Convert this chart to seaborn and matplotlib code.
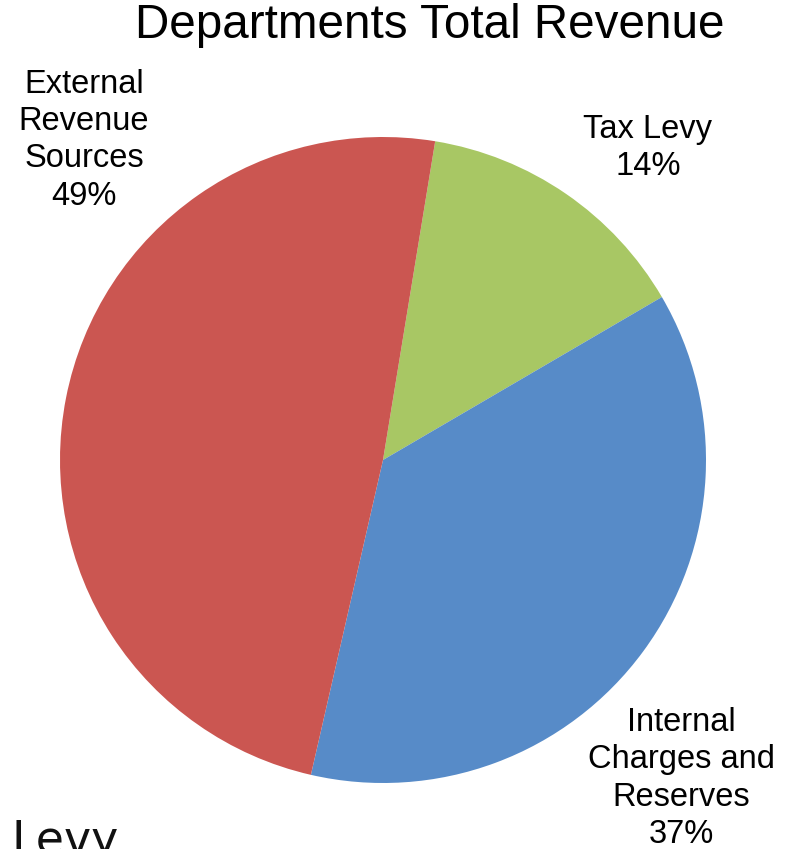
import matplotlib
matplotlib.use("Agg")
import matplotlib.pyplot as plt
import seaborn as sns

# Data
categories = ["Tax Levy", "Internal\nCharges and\nReserves", "External\nRevenue\nSources"]
shares = [14, 37, 49]
colors = ["#A8C764", "#578BC8", "#CB5651"]
title = "Departments Total Revenue"

sns.set_theme(style="white")
plt.rcParams["font.family"] = ["Liberation Sans", "DejaVu Sans"]

W, H = 792, 849
fig = plt.figure(figsize=(W / 100, H / 100), dpi=100)
fig.patch.set_facecolor("white")

cx, cy, r = 383, 460, 323
ax = fig.add_axes([(cx - r) / W, (H - cy - r) / H, 2 * r / W, 2 * r / H])
ax.pie(shares, colors=colors, startangle=80.7, counterclock=False,
       radius=1.0, wedgeprops=dict(linewidth=0))
ax.set_xlim(-1, 1)
ax.set_ylim(-1, 1)
ax.set_aspect("equal")
ax.axis("off")

# label positions (data coords)
label_pos = [(0.82, 0.966), (0.923, -0.986), (-0.926, 0.99)]
for cat, val, (x, y) in zip(categories, shares, label_pos):
    ax.text(x, y, f"{cat}\n{val}%", ha="center", va="center",
            fontsize=23.5, color="black", linespacing=1.27, clip_on=False)

fig.text(430 / W, 1 - 25 / H, title, ha="center", va="center",
         fontsize=34.3, color="black")

fig.text(12 / W, 1 - 819 / H, "Levy", ha="left", va="top",
         fontsize=33, color="#111111", family="DejaVu Sans")

fig.savefig("out.png", dpi=100, facecolor="white")
